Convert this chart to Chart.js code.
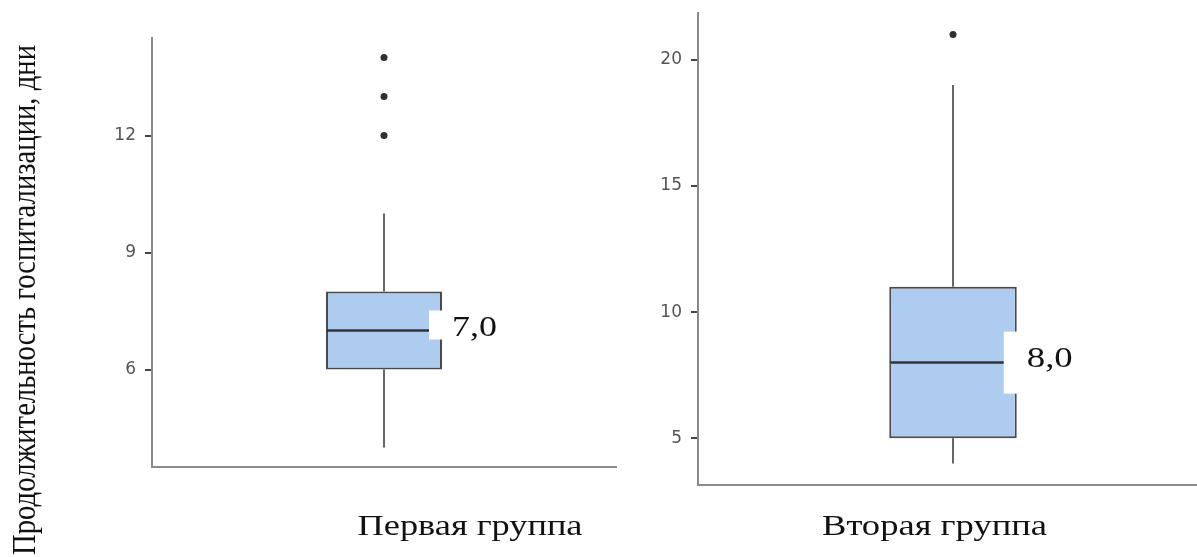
<!DOCTYPE html>
<html><head><meta charset="utf-8">
<script src="https://cdn.jsdelivr.net/npm/chart.js@4.4.0/dist/chart.umd.min.js"></script>
<style>
html,body{margin:0;padding:0;background:#fff;overflow:hidden;width:1197px;height:557px}
#wrap{position:relative;width:1197px;height:557px;overflow:hidden;background:#fff}
canvas{position:absolute;top:0}
#c1{left:0}
#c2{left:620px}
</style></head><body>
<div id="wrap"><canvas id="c1" width="620" height="557"></canvas><canvas id="c2" width="600" height="557"></canvas></div>
<script>
// ---- data ----
const groups = ['Первая группа', 'Вторая группа'];
const whiskerLow = [4, 4];
const q1 = [6, 5];
const median = [7, 8];
const q3 = [8, 11];
const whiskerHigh = [10, 19];
const outliers = [[12, 13, 14], [21]];
const medianLabels = ['7,0', '8,0'];
const yTicks = [[6, 9, 12], [5, 10, 15, 20]];
const yMin = [3.5, 3.15];
const yMax = [14.5, 21.85];
const yTitle = 'Продолжительность госпитализации, дни';

// ---- layout ----
const layouts = [
  {canvasLeft:0, canvasWidth:620, left:152, right:617, top:38, bottom:467,
   group:{cx:470, base:535, w:225},
   med:{inset:13, rTop:-20, rBot:9, tx:23, base:5, tw:45}},
  {canvasLeft:620, canvasWidth:600, left:698, right:1208, top:13, bottom:485,
   group:{cx:934.5, base:535, w:225},
   med:{inset:13, rTop:-31, rBot:31, tx:23, base:4, tw:46}}
];

function drawStretched(ctx, text, x, y, targetW, font, align, rot, sy){
  ctx.save();
  ctx.font = font;
  const w = ctx.measureText(text).width;
  ctx.translate(x, y);
  if (rot) ctx.rotate(rot);
  ctx.scale(targetW / w, sy || 1);
  ctx.textAlign = align;
  ctx.textBaseline = 'alphabetic';
  ctx.fillStyle = '#111';
  ctx.fillText(text, 0, 0);
  ctx.restore();
}

function boxPlugin(i){
  const L = layouts[i];
  return {
    id: 'boxplot' + i,
    beforeDatasetsDraw(chart){
      const ctx = chart.ctx, ys = chart.scales.y;
      const bar = chart.getDatasetMeta(1).data[0];
      const cx = bar.x;
      ctx.save();
      ctx.strokeStyle = '#666'; ctx.lineWidth = 2;
      ctx.beginPath();
      ctx.moveTo(cx, ys.getPixelForValue(q3[i])); ctx.lineTo(cx, ys.getPixelForValue(whiskerHigh[i]));
      ctx.moveTo(cx, ys.getPixelForValue(q1[i])); ctx.lineTo(cx, ys.getPixelForValue(whiskerLow[i]));
      ctx.stroke();
      ctx.restore();
    },
    afterDatasetsDraw(chart){
      const ctx = chart.ctx, ys = chart.scales.y;
      const bar = chart.getDatasetMeta(1).data[0];
      const cx = bar.x, half = bar.width / 2;
      const my = ys.getPixelForValue(median[i]);
      ctx.save();
      ctx.strokeStyle = '#333'; ctx.lineWidth = 2.5;
      ctx.beginPath(); ctx.moveTo(cx - half + 1, my); ctx.lineTo(cx + half - 1, my); ctx.stroke();
      const rx = cx + half - L.med.inset;
      ctx.fillStyle = '#fff';
      ctx.fillRect(rx, my + L.med.rTop, L.med.tx + L.med.tw + 10, L.med.rBot - L.med.rTop);
      ctx.restore();
      drawStretched(ctx, medianLabels[i], rx + L.med.tx, my + L.med.base, L.med.tw, '30px "Liberation Serif"', 'left');
    },
    afterDraw(chart){
      const ctx = chart.ctx;
      drawStretched(ctx, groups[i], L.group.cx - L.canvasLeft, L.group.base, L.group.w, '30px "Liberation Serif"', 'center');
      if (i === 0) {
        drawStretched(ctx, yTitle, 35, 300, 510, '27px "Liberation Serif"', 'center', -Math.PI/2, 1.22);
      }
    }
  };
}

function makeChart(i){
  const L = layouts[i];
  const canvas = document.getElementById('c' + (i + 1));
  return new Chart(canvas, {
    type: 'bar',
    data: {
      labels: [groups[i]],
      datasets: [
        {type:'line', data: outliers[i].map(v => ({x: groups[i], y: v})), showLine:false,
         pointRadius:3.5, pointBackgroundColor:'#2f2f2f', pointBorderWidth:0, order:0},
        {type:'bar', data:[[q1[i], q3[i]]], backgroundColor:'#aecbf0', borderColor:'#4a4a4a',
         borderWidth:2, borderSkipped:false, barPercentage:0.25, categoryPercentage:1, order:1}
      ]
    },
    options: {
      responsive:false, animation:false, devicePixelRatio:1,
      layout:{padding:{left:0, top:L.top, right:L.canvasWidth - (L.right - L.canvasLeft), bottom:0}},
      plugins:{legend:{display:false}, tooltip:{enabled:false}},
      scales:{
        x:{grid:{display:false}, border:{display:true, color:'#8a8a8a', width:2},
           ticks:{display:false},
           afterFit: s => { s.height = 557 - L.bottom; s.paddingLeft = 0; s.paddingRight = 0; }},
        y:{min:yMin[i], max:yMax[i],
           afterBuildTicks: s => { s.ticks = yTicks[i].map(v => ({value:v})); },
           ticks:{font:{family:'DejaVu Sans', size:17}, color:'#555', padding:9, callback: v => String(v)},
           grid:{drawOnChartArea:false, drawTicks:true, tickLength:7, color:'#444', lineWidth:2},
           border:{display:true, color:'#8a8a8a', width:2},
           afterFit: s => { s.width = L.left - L.canvasLeft; s.paddingTop = 0; s.paddingBottom = 0; }}
      }
    },
    plugins:[boxPlugin(i)]
  });
}
makeChart(0);
makeChart(1);
</script>
</body></html>
